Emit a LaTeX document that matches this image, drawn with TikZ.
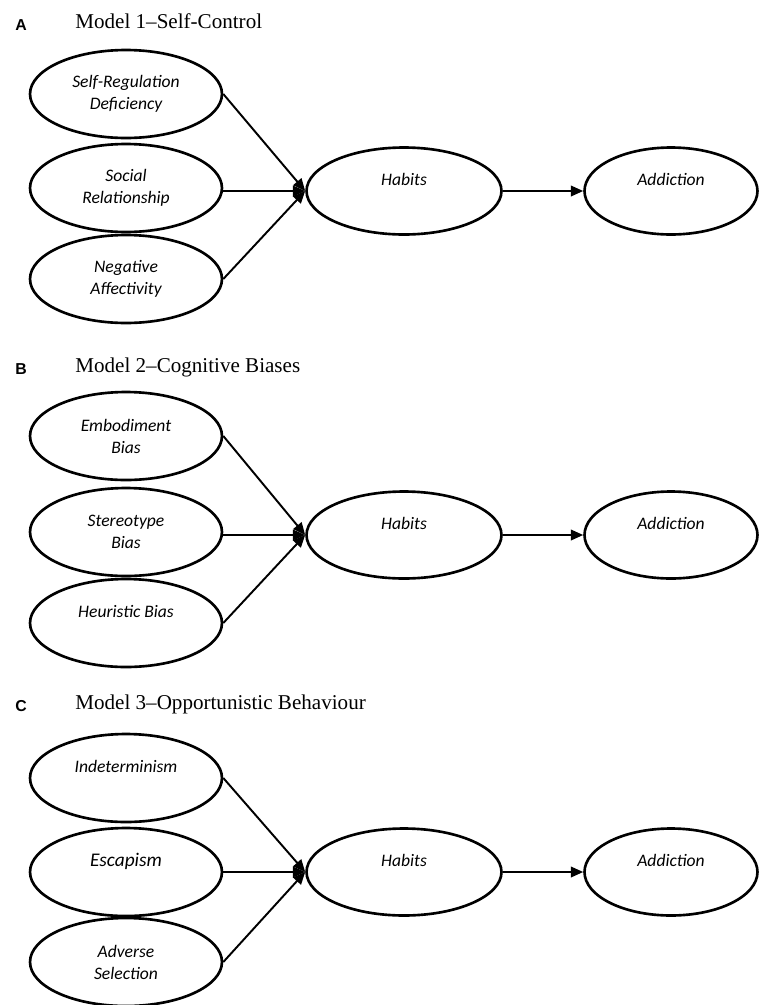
\documentclass[tikz,border=0pt]{standalone}
\usepackage{fontspec}
\setmainfont{Carlito}
\newfontfamily\titlefont[Ligatures=TeX]{Liberation Serif}
\newfontfamily\panelfont{Liberation Sans}
\usetikzlibrary{arrows.meta,shapes.geometric}

\tikzset{
  factor/.style={draw, ellipse, line width=1.5pt, inner sep=0pt,
    minimum width=3.84cm, minimum height=1.76cm, align=center,
    font=\fontsize{10}{12.5}\selectfont\itshape},
  oneline/.style={text height=6pt, text depth=12pt},
  habit/.style={factor, oneline, minimum width=3.9cm, minimum height=1.74cm},
  addict/.style={factor, oneline, minimum width=3.46cm, minimum height=1.74cm},
  link/.style={line width=1.1pt, -{Triangle[length=7pt,width=6pt]}},
  panel/.style={font=\panelfont\bfseries\fontsize{9}{10}\selectfont, anchor=base, inner sep=0pt},
  modeltitle/.style={font=\titlefont\fontsize{12}{14}\selectfont, anchor=base west, inner sep=0pt}
}

\begin{document}
\begin{tikzpicture}[x=0.02cm, y=-0.02cm]
			\useasboundingbox (0,0) rectangle (759,1005);
			
			%%%%% MODEL 1 %%%%%
			\node[panel] (pa) at (21, 30) {A};
			\node[modeltitle] (ta) at (75, 28) {Model 1–Self-Control};
			
			\node[factor] (a1) at (126, 94) {Self-Regulation\\Deficiency};
			\node[factor] (a2) at (126, 188) {Social\\Relationship};
			\node[factor] (a3) at (126, 279) {Negative\\Affectivity};
			\node[habit] (ahab) at (404, 191) {Habits};
			\node[addict] (aadd) at (671, 191) {Addiction};
			
			\draw[link] (a1.east) -- (ahab.west);
			\draw[link] (a2.east |- ahab.west) -- (ahab.west);
			\draw[link] (a3.east) -- (ahab.west);
			\draw[link] (ahab.east) -- (aadd.west);
			
			%%%%% MODEL 2 %%%%%
			\node[panel] (pb) at (21, 374) {B};
			\node[modeltitle] (tb) at (75, 372) {Model 2–Cognitive Biases};
			
			\node[factor] (b1) at (126, 436) {Embodiment\\Bias};
			\node[factor] (b2) at (126, 532) {Stereotype\\Bias};
			\node[factor, oneline] (b3) at (126, 623) {Heuristic Bias};
			\node[habit] (bhab) at (404, 535) {Habits};
			\node[addict] (badd) at (671, 535) {Addiction};
			
			\draw[link] (b1.east) -- (bhab.west);
			\draw[link] (b2.east |- bhab.west) -- (bhab.west);
			\draw[link] (b3.east) -- (bhab.west);
			\draw[link] (bhab.east) -- (badd.west);
			
			%%%%% MODEL 3 %%%%%
			\node[panel] (pc) at (21, 711) {C};
			\node[modeltitle] (tc) at (75, 709) {Model 3–Opportunistic Behaviour};
			
			\node[factor, oneline] (c1) at (126, 778) {Indeterminism};
			\node[factor, oneline] (c2) at (126, 872) {\fontsize{11}{13}\selectfont Escapism};
			\node[factor] (c3) at (126, 962) {Adverse\\Selection};
			\node[habit] (chab) at (404, 872) {Habits};
			\node[addict] (cadd) at (671, 872) {Addiction};
			
			\draw[link] (c1.east) -- (chab.west);
			\draw[link] (c2.east) -- (chab.west);
			\draw[link] (c3.east) -- (chab.west);
			\draw[link] (chab.east) -- (cadd.west);
			
			%%%%% END %%%%%
\end{tikzpicture}
\end{document}
